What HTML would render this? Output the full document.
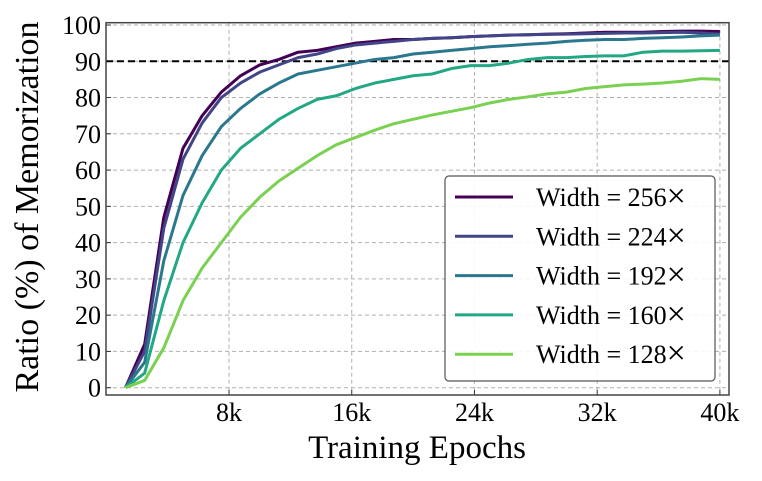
<!DOCTYPE html>
<html><head><meta charset="utf-8"><style>
body{margin:0;background:#fff}
svg{display:block;font-family:"Liberation Serif",serif}
</style></head><body>
<svg id="chart" width="762" height="481"></svg>
<script>
const epochsK = [1.25,2.5,3.75,5,6.25,7.5,8.75,10,11.25,12.5,13.75,15,16.25,17.5,18.75,20,21.25,22.5,23.75,25,26.25,27.5,28.75,30,31.25,32.5,33.75,35,36.25,37.5,38.75,40];
const seriesNames = ["Width = 256","Width = 224","Width = 192","Width = 160","Width = 128"];
const w256 = [0,12,47,66,75,81.5,86,89,90.5,92.5,93,94,95,95.5,96,96,96.3,96.5,96.8,97,97.2,97.3,97.5,97.6,97.8,98,98,98,98.2,98.3,98.3,98.2];
const w224 = [0,10,44,63,73,80,84,87,89,91,92,93.5,94.5,95,95.5,96,96.3,96.5,96.8,97,97.2,97.3,97.4,97.5,97.6,97.7,97.8,97.8,97.9,98,97.8,97.5];
const w192 = [0,7,35,53,64,72,77,81,84,86.5,87.5,88.5,89.5,90.5,91,92,92.5,93,93.5,94,94.3,94.7,95,95.5,95.8,96,96,96.3,96.5,96.7,97,97.2];
const w160 = [0,4,24,40,51,60,66,70,74,77,79.5,80.5,82.5,84,85,86,86.5,88,88.8,88.8,89.5,90.5,91,91,91.3,91.5,91.5,92.5,92.8,92.8,92.9,93];
const w128 = [0,2,11,24,33,40,47,52.5,57,60.5,64,67,69,71,72.8,74,75.2,76.2,77.2,78.5,79.5,80.2,81,81.5,82.5,83,83.5,83.7,84,84.5,85.2,85];
const colors = ["#440154","#414487","#2a788e","#22a884","#7ad151"];
const xTicks = [8,16,24,32,40];
const xTickLabels = ["8k","16k","24k","32k","40k"];
const yTicks = [0,10,20,30,40,50,60,70,80,90,100];
const threshold = 90;

const NS="http://www.w3.org/2000/svg";
const svg=document.getElementById('chart');
const L=106,R=729,T=22.7,B=395;
const X=k=>106.3+k*15.34;
const Y=v=>387.7-v*3.627;
function el(tag,attrs,parent){const e=document.createElementNS(NS,tag);for(const k in attrs)e.setAttribute(k,attrs[k]);(parent||svg).appendChild(e);return e;}

yTicks.forEach(v=>{
  const g=el('line',{x1:L,x2:R,y1:Y(v),y2:Y(v),stroke:'#b0b0b0','stroke-width':1,'stroke-dasharray':'4,3'});
  
  
  const t=el('line',{x1:L,x2:L+5,y1:Y(v),y2:Y(v),stroke:'#333','stroke-width':1});
  
  
  const lb=el('text',{x:L-5,y:Y(v)+9,'text-anchor':'end','font-size':26,fill:'#000'});
  lb.textContent=v;
  
  
});
xTicks.forEach((k,i)=>{
  const g=el('line',{x1:X(k),x2:X(k),y1:T,y2:B,stroke:'#b0b0b0','stroke-width':1,'stroke-dasharray':'4,3'});
  
  
  const t=el('line',{x1:X(k),x2:X(k),y1:B,y2:B-5,stroke:'#333','stroke-width':1});
  
  
  const lb=el('text',{x:X(k),y:B+26,'text-anchor':'middle','font-size':26,fill:'#000'});
  lb.textContent=xTickLabels[i];
  
  
});
const th=el('line',{x1:L,x2:R,y1:Y(threshold),y2:Y(threshold),stroke:'#000','stroke-width':2,'stroke-dasharray':'7,4'});


const allSeries=[w256,w224,w192,w160,w128];
allSeries.forEach((s,i)=>{
  const p=el('polyline',{points:s.map((v,j)=>X(epochsK[j])+','+Y(v)).join(' '),fill:'none',stroke:colors[i],'stroke-width':3,'stroke-linejoin':'round'});
  
  
});
const fr=el('rect',{x:L,y:T,width:R-L,height:B-T,fill:'none',stroke:'#444','stroke-width':1.5});


const lg=el('g',{});


el('rect',{x:445,y:176,width:270,height:205,rx:4,fill:'#fff','fill-opacity':0.9,stroke:'#555','stroke-width':1.2},lg);
seriesNames.forEach((n,i)=>{
  const y=197+i*39.3;
  const ln=el('line',{x1:455,x2:513,y1:y,y2:y,stroke:colors[i],'stroke-width':3},lg);
  
  
  const t=el('text',{x:536,y:y+9,'font-size':26,fill:'#000'},lg);
  t.textContent=n;
  const ts=el('tspan',{'font-size':34,dy:1},t);
  ts.textContent='×';
  
  
});
const xt=el('text',{x:417,y:458,'text-anchor':'middle','font-size':33,fill:'#000'});
xt.textContent='Training Epochs';


const yt=el('text',{x:0,y:0,'text-anchor':'middle','font-size':34,fill:'#000',transform:'translate(38,207) rotate(-90)'});
yt.textContent='Ratio (%) of Memorization';


</script>
</body></html>
